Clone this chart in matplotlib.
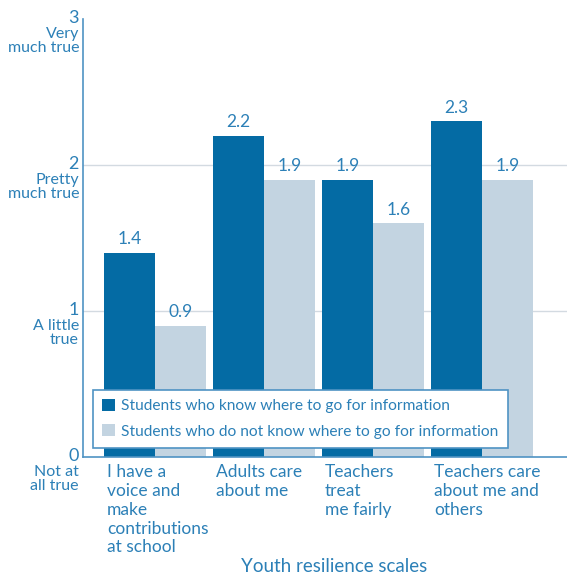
import matplotlib
matplotlib.use("Agg")
import matplotlib.pyplot as plt
import matplotlib.transforms as mtransforms
import numpy as np

plt.rcParams['font.family'] = ['Lato', 'DejaVu Sans']

categories = ["I have a\nvoice and\nmake\ncontributions\nat school",
              "Adults care\nabout me",
              "Teachers\ntreat\nme fairly",
              "Teachers care\nabout me and\nothers"]
know = [1.4, 2.2, 1.9, 2.3]
not_know = [0.9, 1.9, 1.6, 1.9]
series_names = ["Students who know where to go for information",
                "Students who do not know where to go for information"]
y_ticks = [0, 1, 2, 3]
y_desc = ["Not at\nall true", "A little\ntrue", "Pretty\nmuch true", "Very\nmuch true"]
x_title = "Youth resilience scales"

DARK = "#046BA4"
LIGHT = "#C3D4E1"
TEXT = "#2C80B7"
AXIS = "#4F93C3"
GRID = "#D3DAE1"

fig = plt.figure(figsize=(5.67, 5.75), dpi=100)
ax = fig.add_axes([83/567, 118/575, 1 - 83/567, (457-19)/575])

x = np.arange(len(categories))
w = 0.468
b1 = ax.bar(x - w/2, know, w, color=DARK, label=series_names[0], zorder=2)
b2 = ax.bar(x + w/2, not_know, w, color=LIGHT, label=series_names[1], zorder=2)

for bars, vals in ((b1, know), (b2, not_know)):
    for r, v in zip(bars, vals):
        ax.annotate(f"{v:.1f}", (r.get_x() + r.get_width()/2, v),
                    xytext=(0, 4), textcoords="offset points",
                    ha="center", va="bottom", color=TEXT, fontsize=12.5)

ax.set_xlim(-0.66, 3.78)
ax.set_ylim(0, 3)
for yv in (1, 2):
    ax.axhline(yv, color=GRID, lw=1, zorder=1)

for s in ("top", "right"):
    ax.spines[s].set_visible(False)
ax.spines["left"].set_color(AXIS)
ax.spines["bottom"].set_color(AXIS)
ax.spines["left"].set_linewidth(1.2)
ax.spines["bottom"].set_linewidth(1.2)
ax.set_xticks([])
ax.set_yticks([])

# y-axis: numeric value with a verbal description underneath
ytrans = mtransforms.blended_transform_factory(ax.transAxes, ax.transData)
for yv, desc in zip(y_ticks, y_desc):
    off = mtransforms.offset_copy(ytrans, fig=fig, x=-4, y=1, units="dots")
    ax.text(0, yv, str(yv), transform=off, ha="right", va="center",
            color=TEXT, fontsize=13)
    off2 = mtransforms.offset_copy(ytrans, fig=fig, x=-4, y=-8, units="dots")
    ax.text(0, yv, desc, transform=off2, ha="right", va="top",
            color=TEXT, fontsize=11.5, linespacing=1.0)

# category labels, left aligned under each group
xtrans = mtransforms.blended_transform_factory(ax.transData, ax.transAxes)
for xi, lab in zip(x, categories):
    off = mtransforms.offset_copy(xtrans, fig=fig, x=0, y=-7, units="dots")
    ax.text(xi - 0.44, 0, lab, transform=off, ha="left", va="top",
            color=TEXT, fontsize=12.5, linespacing=1.22)

fig.text(334/567, 1 - 567/575, x_title, ha="center", va="center",
         color=TEXT, fontsize=13.5)

leg = ax.legend(loc="lower left", bbox_to_anchor=(93/567, 127/575),
                bbox_transform=fig.transFigure, frameon=True, fancybox=False,
                fontsize=11.2, handlelength=0.8, handleheight=0.8,
                handletextpad=0.4, borderpad=0.6, labelspacing=0.7,
                borderaxespad=0)
leg.get_frame().set_edgecolor(AXIS)
leg.get_frame().set_linewidth(1.2)
leg.get_frame().set_alpha(1)
for t in leg.get_texts():
    t.set_color(TEXT)

fig.savefig("out.png", dpi=100)
